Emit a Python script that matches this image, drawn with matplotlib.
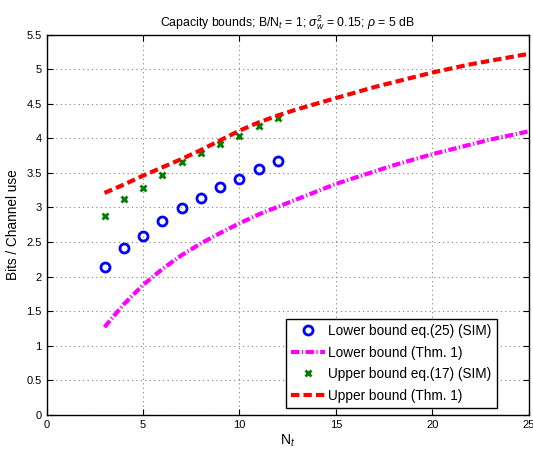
import matplotlib
matplotlib.use("Agg")
import matplotlib.pyplot as plt

plt.rcParams['font.family'] = ['Liberation Sans', 'DejaVu Sans']
plt.rcParams['mathtext.fontset'] = 'custom'
plt.rcParams['mathtext.rm'] = 'Liberation Sans'
plt.rcParams['mathtext.it'] = 'Liberation Sans:italic'

# Data
n_sim = [3, 4, 5, 6, 7, 8, 9, 10, 11, 12]
lower_sim = [2.14, 2.41, 2.59, 2.80, 2.99, 3.14, 3.29, 3.41, 3.56, 3.67]
upper_sim = [2.87, 3.12, 3.28, 3.47, 3.65, 3.79, 3.92, 4.04, 4.18, 4.29]

n_thm = list(range(3, 26))
lower_thm = [1.27, 1.60, 1.88, 2.11, 2.31, 2.48, 2.63, 2.77, 2.90, 3.01, 3.12,
             3.23, 3.34, 3.43, 3.52, 3.61, 3.69, 3.77, 3.84, 3.91, 3.98, 4.04, 4.10]
upper_thm = [3.21, 3.33, 3.46, 3.58, 3.70, 3.83, 3.97, 4.11, 4.23, 4.33, 4.42,
             4.50, 4.58, 4.66, 4.74, 4.81, 4.88, 4.95, 5.01, 5.07, 5.12, 5.17, 5.22]

labels = ['Lower bound eq.(25) (SIM)', 'Lower bound (Thm. 1)',
          'Upper bound eq.(17) (SIM)', 'Upper bound (Thm. 1)']

fig = plt.figure(figsize=(5.33, 4.5), dpi=100)
ax = fig.add_axes([0.0876, 0.0778, 0.904, 0.8455])

ax.plot(n_sim, lower_sim, 'o', color='blue', markerfacecolor='none',
        markersize=6.5, markeredgewidth=2, label=labels[0])
ax.plot(n_thm, lower_thm, color='magenta', linewidth=3,
        linestyle=(0, (2.0, 0.6, 0.3, 0.6)), label=labels[1])
ax.plot(n_sim, upper_sim, 'x', color=(0, 0.5, 0), markersize=4,
        markeredgewidth=2, label=labels[2])
ax.plot(n_thm, upper_thm, color='red', linewidth=3,
        linestyle=(0, (2.0, 1.0)), label=labels[3])

ax.set_xlim(0, 25)
ax.set_ylim(0, 5.5)
ax.set_xticks([0, 5, 10, 15, 20, 25])
ax.set_yticks([0, 0.5, 1, 1.5, 2, 2.5, 3, 3.5, 4, 4.5, 5, 5.5])
ax.set_yticklabels(['0', '0.5', '1', '1.5', '2', '2.5', '3', '3.5', '4', '4.5', '5', '5.5'])
ax.tick_params(direction='in', top=True, right=True, labelsize=8, length=4, width=0.8)
ax.grid(True, linestyle=(0, (1, 3)), color='#808080', linewidth=0.8)
for s in ax.spines.values():
    s.set_linewidth(1.0)

ax.set_xlabel('N$_t$', fontsize=10, labelpad=2)
ax.set_ylabel('Bits / Channel use', fontsize=9.8, labelpad=5)
ax.set_title('Capacity bounds; B/N$_t$ = 1; $\\sigma_w^2$ = 0.15; $\\rho$ = 5 dB',
             fontsize=8.8, pad=6)

leg = ax.legend(loc='lower right', bbox_to_anchor=(0.934, 0.018), fontsize=9.8,
                handlelength=2.5, fancybox=False, edgecolor='black',
                framealpha=1, borderaxespad=0, labelspacing=0.55,
                handletextpad=0.2, borderpad=0.4)
leg.get_frame().set_linewidth(1.0)

fig.savefig('out.png', dpi=100)
